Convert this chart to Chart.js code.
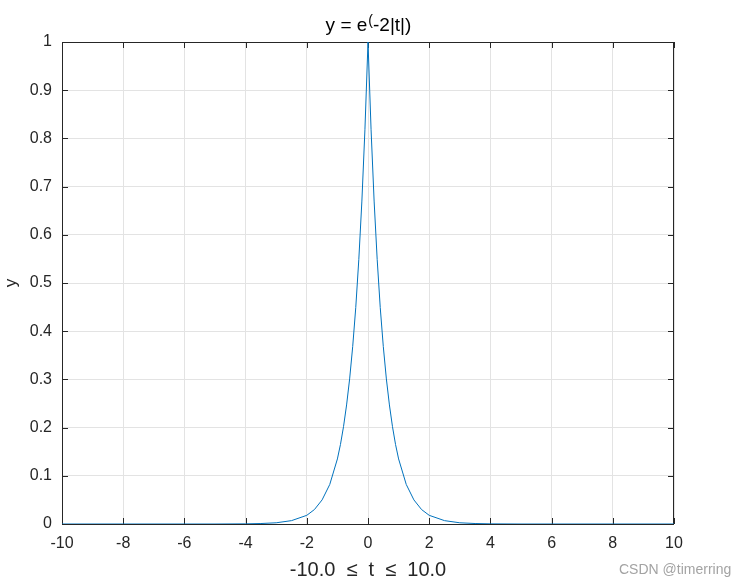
<!DOCTYPE html>
<html>
<head>
<meta charset="utf-8">
<script src="https://cdn.jsdelivr.net/npm/chart.js@4/dist/chart.umd.min.js"></script>
<style>
  html, body { margin: 0; padding: 0; background: #fff; }
  #wrap { position: relative; width: 747px; height: 588px; }
  #mark { position: absolute; left: 619px; top: 561px; font: 14px "Liberation Sans", Arial, sans-serif; color: #a3a3a3; }
</style>
</head>
<body>
<div id="wrap">
  <canvas id="plot" width="747" height="588"></canvas>
  <div id="mark">CSDN @timerring</div>
</div>
<script>
// values
const tValues = [-10, -5, -4, -3.5, -3, -2.5, -2, -1.75, -1.5, -1.25, -1, -0.9, -0.8, -0.7, -0.6, -0.5, -0.4, -0.3, -0.2, -0.1,
                 0, 0.1, 0.2, 0.3, 0.4, 0.5, 0.6, 0.7, 0.8, 0.9, 1, 1.25, 1.5, 1.75, 2, 2.5, 3, 3.5, 4, 5, 10];
const yValues = [0, 0, 0.0003, 0.001, 0.0025, 0.007, 0.018, 0.03, 0.05, 0.082, 0.135, 0.165, 0.202, 0.247, 0.301, 0.368, 0.449, 0.549, 0.670, 0.819,
                 1, 0.819, 0.670, 0.549, 0.449, 0.368, 0.301, 0.247, 0.202, 0.165, 0.135, 0.082, 0.05, 0.03, 0.018, 0.007, 0.0025, 0.001, 0.0003, 0, 0];
const xTickLabels = ['-10', '-8', '-6', '-4', '-2', '0', '2', '4', '6', '8', '10'];
const yTickLabels = ['0', '0.1', '0.2', '0.3', '0.4', '0.5', '0.6', '0.7', '0.8', '0.9', '1'];

const FONT = '"Liberation Sans", Arial, sans-serif';
const TEXT = '#262626';

// box round the axes, inward ticks, and the title
const matlabAxes = {
    id: 'matlabAxes',
    beforeDatasetsDraw(chart) {
        const { ctx, chartArea: a, scales } = chart;
        ctx.save();
        ctx.strokeStyle = '#262626';
        ctx.lineWidth = 1;
        ctx.strokeRect(a.left + 0.5, a.top + 0.5, a.right - a.left - 1, a.bottom - a.top);
        ctx.beginPath();
        scales.x.ticks.forEach(t => {
            const x = Math.round(scales.x.getPixelForValue(t.value)) + 0.5;
            ctx.moveTo(x, a.bottom); ctx.lineTo(x, a.bottom - 6);
            ctx.moveTo(x, a.top); ctx.lineTo(x, a.top + 6);
        });
        scales.y.ticks.forEach(t => {
            const y = Math.round(scales.y.getPixelForValue(t.value)) + 0.5;
            ctx.moveTo(a.left, y); ctx.lineTo(a.left + 6, y);
            ctx.moveTo(a.right, y); ctx.lineTo(a.right - 6, y);
        });
        ctx.stroke();
        ctx.restore();
    },
    afterDraw(chart) {
        const { ctx, chartArea: a } = chart;
        ctx.save();
        ctx.fillStyle = '#000';
        ctx.textBaseline = 'alphabetic';
        const big = '19px ' + FONT, small = '14px ' + FONT;
        ctx.font = big;
        const p1 = 'y = e', p3 = '-2|t|)';
        const w1 = ctx.measureText(p1).width, w3 = ctx.measureText(p3).width;
        ctx.font = small;
        const w2 = ctx.measureText('(').width;
        let x = (a.left + a.right) / 2 - (w1 + w2 + w3) / 2;
        const base = 31;
        ctx.font = big;
        ctx.fillText(p1, x, base);
        x += w1 + 1;
        ctx.font = small;
        ctx.fillText('(', x, base - 6);
        x += w2;
        ctx.font = big;
        ctx.fillText(p3, x, base);
        ctx.restore();
    }
};

new Chart(document.getElementById('plot'), {
    type: 'line',
    data: {
        datasets: [{
            data: tValues.map((t, i) => ({ x: t, y: yValues[i] })),
            borderColor: '#0072BD',
            borderWidth: 1,
            pointRadius: 0,
            tension: 0,
            fill: false
        }]
    },
    options: {
        responsive: false,
        animation: false,
        layout: { padding: { left: 0, right: 73, top: 42, bottom: 0 } },
        plugins: { legend: { display: false }, tooltip: { enabled: false }, title: { display: false } },
        scales: {
            x: {
                type: 'linear', min: -10, max: 10,
                afterFit: s => { s.height = 64; },
                grid: { color: '#e3e3e3', drawTicks: false },
                border: { display: false },
                ticks: {
                    stepSize: 2, padding: 10, color: TEXT, maxRotation: 0,
                    font: { family: FONT, size: 16 },
                    callback: (v, i) => xTickLabels[i]
                },
                title: {
                    display: true, text: '-10.0  \u2264  t  \u2264  10.0', color: TEXT,
                    font: { family: FONT, size: 20 }, padding: { top: 0, bottom: 6 }
                }
            },
            y: {
                min: 0, max: 1,
                afterFit: s => { s.width = 62; },
                grid: { color: '#e3e3e3', drawTicks: false },
                border: { display: false },
                ticks: {
                    stepSize: 0.1, padding: 10, color: TEXT,
                    font: { family: FONT, size: 16 },
                    callback: (v, i) => yTickLabels[i]
                },
                title: {
                    display: true, text: 'y', color: TEXT,
                    font: { family: FONT, size: 17 }, padding: { top: 1, bottom: 0 }
                }
            }
        }
    },
    plugins: [matlabAxes]
});
</script>
</body>
</html>
